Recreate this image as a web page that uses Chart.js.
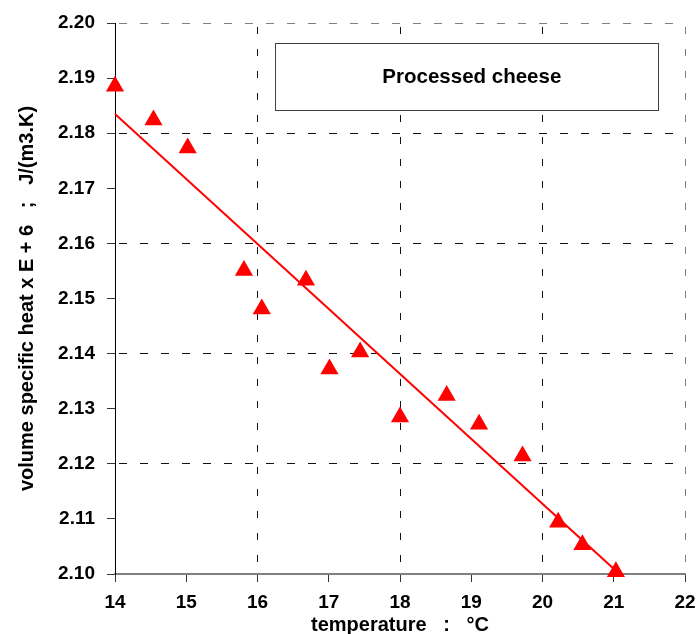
<!DOCTYPE html>
<html>
<head>
<meta charset="utf-8">
<script src="https://cdn.jsdelivr.net/npm/chart.js@4.4.1/dist/chart.umd.min.js"></script>
<style>
  html, body { margin: 0; padding: 0; background: #fff; }
</style>
</head>
<body>
<canvas id="chart" width="696" height="634"></canvas>
<script>
// measured points
const temperature = [14.0, 14.54, 15.02, 15.81, 16.06, 16.68, 17.01, 17.44, 18.0, 18.655, 19.11, 19.72, 20.22, 20.56, 21.03];
const heat = [2.1885, 2.1824, 2.1773, 2.1551, 2.1481, 2.1533, 2.1372, 2.1403, 2.1285, 2.1324, 2.1272, 2.1214, 2.1094, 2.1053, 2.1004];

// fitted straight line (end points)
const fitX = [14.0, 21.08];
const fitY = [2.1835, 2.1000];

const seriesLabel = 'Processed cheese';
const xTitle = 'temperature   :   °C';
const yTitle = 'volume specific heat x E + 6   ;   J/(m3.K)';

const FONT = "'Liberation Sans', Arial, sans-serif";
const RED = '#ff0000';

// boxed caption in the upper right of the plot
const captionBox = {
  id: 'captionBox',
  beforeDatasetsDraw(chart) {
    const { ctx, chartArea: ca } = chart;
    const w = ca.right - ca.left, h = ca.bottom - ca.top;
    const x0 = Math.round(ca.left + 0.281 * w) + 0.5;
    const x1 = Math.round(ca.left + 0.9526 * w) + 0.5;
    const y0 = Math.round(ca.top + 0.0363 * h) + 0.5;
    const y1 = Math.round(ca.top + 0.158 * h) + 0.5;
    ctx.save();
    ctx.fillStyle = '#fff';
    ctx.fillRect(x0, y0, x1 - x0, y1 - y0);
    ctx.strokeStyle = '#404040';
    ctx.lineWidth = 1;
    ctx.strokeRect(x0, y0, x1 - x0, y1 - y0);
    ctx.fillStyle = '#000';
    ctx.font = 'bold 20.5px ' + FONT;
    ctx.textAlign = 'center';
    ctx.textBaseline = 'middle';
    ctx.fillText(seriesLabel, ca.left + 0.626 * w, (y0 + y1) / 2);
    ctx.restore();
  }
};

new Chart(document.getElementById('chart').getContext('2d'), {
  type: 'scatter',
  data: {
    datasets: [
      {
        label: seriesLabel,
        data: temperature.map((t, i) => ({ x: t, y: heat[i] })),
        pointStyle: 'triangle',
        pointRadius: 10.5,
        pointBackgroundColor: RED,
        pointBorderWidth: 0,
        clip: false,
      },
      {
        label: 'fit',
        data: fitX.map((t, i) => ({ x: t, y: fitY[i] })),
        showLine: true,
        borderColor: RED,
        borderWidth: 2,
        pointRadius: 0,
        clip: false,
      },
    ],
  },
  options: {
    responsive: false,
    animation: false,
    events: [],
    layout: { padding: { top: 23, right: 11, left: 0, bottom: 0 } },
    plugins: {
      legend: { display: false },
      tooltip: { enabled: false },
    },
    scales: {
      x: {
        type: 'linear',
        min: 14,
        max: 22,
        afterFit: s => { s.height = 60; s.paddingLeft = 0; s.paddingRight = 0; },
        ticks: {
          stepSize: 1,
          color: '#000',
          padding: 9,
          font: { family: FONT, size: 19, weight: 'bold' },
        },
        grid: {
          color: c => {
            const v = Math.round(c.tick.value);
            if (v === 22) return '#808080';
            if (v > 14 && v % 2 === 0) return '#111';
            return 'rgba(0,0,0,0)';
          },
          tickColor: '#333',
          tickLength: 8,
          lineWidth: 1,
        },
        border: { color: '#808080', width: 2, dash: [7, 15], dashOffset: 18 },
        title: {
          display: true,
          text: xTitle,
          color: '#000',
          font: { family: FONT, size: 20, weight: 'bold', lineHeight: 0.84 },
          padding: { top: 0, bottom: 0 },
        },
      },
      y: {
        min: 2.10,
        max: 2.20,
        afterFit: s => { s.width = 115; s.paddingTop = 0; s.paddingBottom = 0; },
        ticks: {
          stepSize: 0.01,
          color: '#000',
          padding: 12,
          font: { family: FONT, size: 19, weight: 'bold' },
          callback: v => v.toFixed(2),
        },
        grid: {
          color: c => {
            const k = Math.round((c.tick.value - 2.10) * 100);
            if (k === 10) return '#808080';
            if (k > 0 && k % 2 === 0) return '#111';
            return 'rgba(0,0,0,0)';
          },
          tickColor: '#333',
          tickLength: 8,
          lineWidth: 1,
        },
        border: { color: '#000', width: 1, dash: [8, 13], dashOffset: 18 },
        title: {
          display: true,
          text: yTitle,
          color: '#000',
          font: { family: FONT, size: 20, weight: 'bold' },
          padding: { top: 15, bottom: 0 },
        },
      },
    },
  },
  plugins: [captionBox],
});
</script>
</body>
</html>
